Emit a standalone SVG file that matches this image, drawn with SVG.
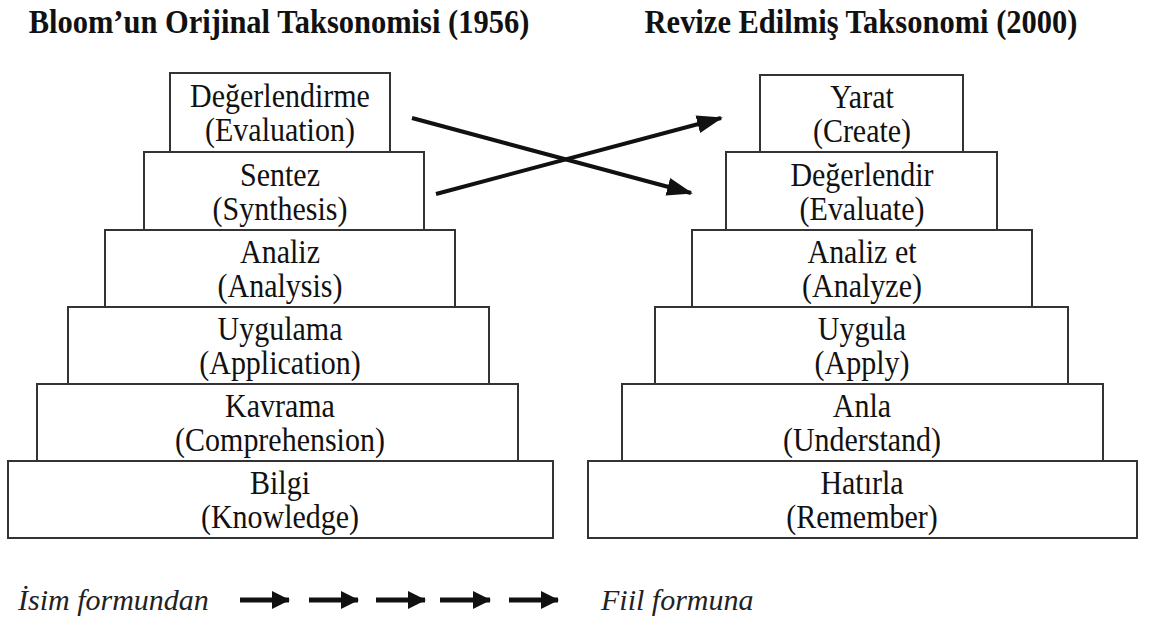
<svg xmlns="http://www.w3.org/2000/svg" width="1154" height="618" viewBox="0 0 1154 618">
<style>
.box{fill:#fff;stroke:#333;stroke-width:2}
.t{font-family:"Liberation Serif","Times New Roman",serif;font-size:30px;text-anchor:middle;fill:#111}
.h{font-family:"Liberation Serif","Times New Roman",serif;font-size:30.5px;font-weight:bold;text-anchor:middle;fill:#111}
.i{font-family:"Liberation Serif","Times New Roman",serif;font-size:30px;font-style:italic;fill:#222}
.c{stroke:#111;stroke-width:4;fill:none}
.ba{stroke:#111;stroke-width:5}
</style>
<defs>
<marker id="ah" markerUnits="userSpaceOnUse" markerWidth="26" markerHeight="20" refX="24" refY="10" orient="auto">
<path d="M0,1 L26,10 L0,19 Z" fill="#111"/>
</marker>
<marker id="bh" markerUnits="userSpaceOnUse" markerWidth="18" markerHeight="20" refX="17" refY="10" orient="auto">
<path d="M0,1 L18,10 L0,19 Z" fill="#111"/>
</marker>
</defs>
<text class="h" transform="translate(279,33) scale(1,1.08)">Bloom’un Orijinal Taksonomisi (1956)</text>
<text class="h" transform="translate(861,33) scale(1,1.08)">Revize Edilmiş Taksonomi (2000)</text>
<g id="left-pyramid">
<g id="L6"><rect class="box" x="8" y="461" width="545" height="77"/><text class="t" transform="translate(280,494) scale(1,1.1)">Bilgi</text><text class="t" transform="translate(280,528) scale(1,1.1)">(Knowledge)</text></g>
<g id="L5"><rect class="box" x="37" y="384" width="481" height="77"/><text class="t" transform="translate(280,417) scale(1,1.1)">Kavrama</text><text class="t" transform="translate(280,451) scale(1,1.1)">(Comprehension)</text></g>
<g id="L4"><rect class="box" x="68" y="307" width="421" height="77"/><text class="t" transform="translate(280,340) scale(1,1.1)">Uygulama</text><text class="t" transform="translate(280,374) scale(1,1.1)">(Application)</text></g>
<g id="L3"><rect class="box" x="105" y="230" width="350" height="77"/><text class="t" transform="translate(280,263) scale(1,1.1)">Analiz</text><text class="t" transform="translate(280,297) scale(1,1.1)">(Analysis)</text></g>
<g id="L2"><rect class="box" x="144" y="152" width="280" height="78"/><text class="t" transform="translate(280,186) scale(1,1.1)">Sentez</text><text class="t" transform="translate(280,220) scale(1,1.1)">(Synthesis)</text></g>
<g id="L1"><rect class="box" x="170" y="73" width="220" height="79"/><text class="t" transform="translate(280,107) scale(1,1.1)">Değerlendirme</text><text class="t" transform="translate(280,141) scale(1,1.1)">(Evaluation)</text></g>
</g>
<g id="right-pyramid">
<g id="R6"><rect class="box" x="588" y="461" width="549" height="77"/><text class="t" transform="translate(862,494) scale(1,1.1)">Hatırla</text><text class="t" transform="translate(862,528) scale(1,1.1)">(Remember)</text></g>
<g id="R5"><rect class="box" x="622" y="384" width="481" height="77"/><text class="t" transform="translate(862,417) scale(1,1.1)">Anla</text><text class="t" transform="translate(862,451) scale(1,1.1)">(Understand)</text></g>
<g id="R4"><rect class="box" x="655" y="307" width="413" height="77"/><text class="t" transform="translate(862,340) scale(1,1.1)">Uygula</text><text class="t" transform="translate(862,374) scale(1,1.1)">(Apply)</text></g>
<g id="R3"><rect class="box" x="692" y="230" width="340" height="77"/><text class="t" transform="translate(862,263) scale(1,1.1)">Analiz et</text><text class="t" transform="translate(862,297) scale(1,1.1)">(Analyze)</text></g>
<g id="R2"><rect class="box" x="726" y="152" width="271" height="78"/><text class="t" transform="translate(862,186) scale(1,1.1)">Değerlendir</text><text class="t" transform="translate(862,220) scale(1,1.1)">(Evaluate)</text></g>
<g id="R1"><rect class="box" x="760" y="75" width="203" height="77"/><text class="t" transform="translate(862,108) scale(1,1.1)">Yarat</text><text class="t" transform="translate(862,142) scale(1,1.1)">(Create)</text></g>
</g>
<g id="connectors">
<line class="c" x1="412" y1="118" x2="691" y2="193" marker-end="url(#ah)"/>
<line class="c" x1="436" y1="194" x2="721" y2="118" marker-end="url(#ah)"/>
</g>
<g id="legend">
<text class="i" x="18" y="610">İsim formundan</text>
<line class="ba" x1="240" y1="600" x2="289" y2="600" marker-end="url(#bh)"/>
<line class="ba" x1="309" y1="600" x2="358" y2="600" marker-end="url(#bh)"/>
<line class="ba" x1="376" y1="600" x2="425" y2="600" marker-end="url(#bh)"/>
<line class="ba" x1="440" y1="600" x2="490" y2="600" marker-end="url(#bh)"/>
<line class="ba" x1="509" y1="600" x2="558" y2="600" marker-end="url(#bh)"/>
<text class="i" x="601" y="610">Fiil formuna</text>
</g>
</svg>
